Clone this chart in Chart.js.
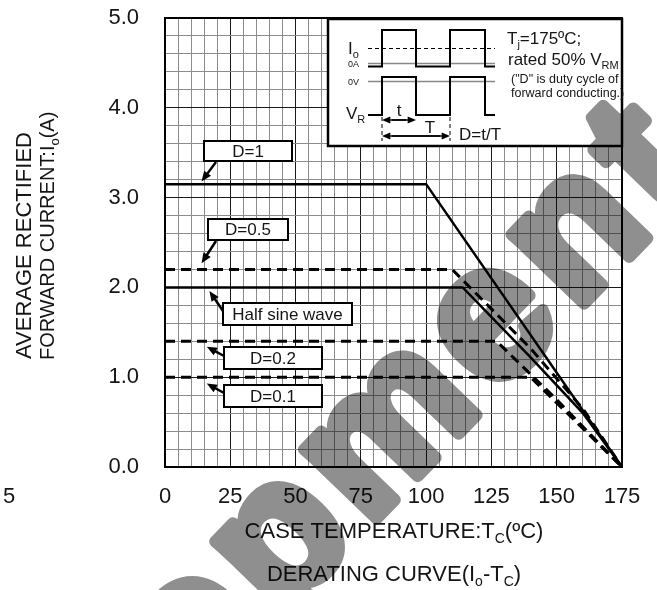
<!DOCTYPE html>
<html>
<head>
<meta charset="utf-8">
<script src="https://cdn.jsdelivr.net/npm/chart.js@4.4.1/dist/chart.umd.min.js"></script>
<style>
  html, body { margin: 0; padding: 0; background: #fff; }
  #wrap { width: 657px; height: 590px; }
</style>
</head>
<body>
<div id="wrap"><canvas id="derating" width="657" height="590"></canvas></div>
<script>
// case temperature (degC) vs average rectified forward current (A)
const d1Temp = [0, 100, 175]
const d1Amp = [3.15, 3.15, 0]
const d05Temp = [0, 110, 140, 160, 175]
const d05Amp = [2.2, 2.2, 1.32, 0.65, 0]
const sineTemp = [0, 114, 140, 160, 175]
const sineAmp = [2.0, 2.0, 1.22, 0.6, 0]
const d02Temp = [0, 127, 150, 175]
const d02Amp = [1.4, 1.4, 0.75, 0]
const d01Temp = [0, 140, 175]
const d01Amp = [1.0, 1.0, 0]

const seriesNames = ['D=1', 'D=0.5', 'Half sine wave', 'D=0.2', 'D=0.1']
const xTickLabels = [0, 25, 50, 75, 100, 125, 150, 175]
const yTickLabels = ['0.0', '1.0', '2.0', '3.0', '4.0', '5.0']

const FONT = "'Liberation Sans', Arial, sans-serif"
const INK = '#151515'

function pts(xs, ys) {
  return xs.map((x, i) => ({ x, y: ys[i] }))
}

function lineSet(label, xs, ys, dashed) {
  return {
    label,
    data: pts(xs, ys),
    showLine: true,
    borderColor: '#000',
    borderWidth: dashed ? 3 : 2.5,
    borderDash: dashed ? [10, 6] : [],
    pointRadius: 0,
    fill: false,
    tension: 0,
  }
}

// text with subscripts: parts = [[text, size, dy], ...]
function richText(ctx, parts, x, y, align) {
  let w = 0
  parts.forEach((p) => {
    ctx.font = p[1] + 'px ' + FONT
    w += ctx.measureText(p[0]).width
  })
  let cx = align === 'center' ? x - w / 2 : align === 'right' ? x - w : x
  ctx.textAlign = 'left'
  ctx.textBaseline = 'alphabetic'
  parts.forEach((p) => {
    ctx.font = p[1] + 'px ' + FONT
    ctx.fillText(p[0], cx, y + (p[2] || 0))
    cx += ctx.measureText(p[0]).width
  })
}

function arrow(ctx, x1, y1, x2, y2, head) {
  const a = Math.atan2(y2 - y1, x2 - x1)
  ctx.beginPath()
  ctx.moveTo(x1, y1)
  ctx.lineTo(x2 - Math.cos(a) * head * 0.8, y2 - Math.sin(a) * head * 0.8)
  ctx.stroke()
  ctx.beginPath()
  ctx.moveTo(x2, y2)
  ctx.lineTo(x2 - head * Math.cos(a - 0.4), y2 - head * Math.sin(a - 0.4))
  ctx.lineTo(x2 - head * Math.cos(a + 0.4), y2 - head * Math.sin(a + 0.4))
  ctx.closePath()
  ctx.fill()
}

// callout boxes: box rect in px, arrow from tail (px) to tip given in data units
const callouts = [
  { text: seriesNames[0], box: [204, 141, 88, 20], tail: [216, 162], tip: [14, 3.18] },
  { text: seriesNames[1], box: [208, 219, 80, 21], tail: [216, 241], tip: [14, 2.27] },
  { text: seriesNames[2], box: [223, 303, 129, 22], tail: [223, 311], tip: [17, 1.96] },
  { text: seriesNames[3], box: [224, 347, 98, 22], tail: [224, 356], tip: [16, 1.34] },
  { text: seriesNames[4], box: [224, 385, 98, 22], tail: [224, 393], tip: [16, 0.93] },
]

function drawWatermark(ctx, w, h) {
  // render the heavy grey word on its own layer, then multiply it over the chart
  const layer = document.createElement('canvas')
  layer.width = w
  layer.height = h
  const lc = layer.getContext('2d')
  lc.fillStyle = '#fff'
  lc.fillRect(0, 0, w, h)
  lc.fillStyle = '#8f8f8f'
  lc.strokeStyle = '#8f8f8f'
  lc.lineWidth = 12
  lc.lineJoin = 'round'
  lc.font = 'bold 190px ' + FONT
  lc.letterSpacing = '12px'
  const pre = lc.measureText('Developm').width
  lc.letterSpacing = '0px'
  const eW = lc.measureText('e').width
  lc.letterSpacing = '12px'
  lc.translate(530, 360)
  lc.rotate(-46 * Math.PI / 180)
  lc.textAlign = 'left'
  lc.textBaseline = 'alphabetic'
  lc.fillText('Development', -pre - eW / 2, 0)
  lc.strokeText('Development', -pre - eW / 2, 0)
  ctx.save()
  ctx.globalCompositeOperation = 'multiply'
  ctx.drawImage(layer, 0, 0)
  ctx.restore()
}

const decorations = {
  id: 'decorations',
  afterDraw(chart) {
    const ctx = chart.ctx
    const area = chart.chartArea
    const xs = chart.scales.x
    const ys = chart.scales.y
    ctx.save()

    // plot frame
    ctx.strokeStyle = '#000'
    ctx.lineWidth = 2
    ctx.strokeRect(area.left, area.top, area.right - area.left, area.bottom - area.top)

    // callouts
    ctx.fillStyle = '#000'
    ctx.strokeStyle = '#000'
    callouts.forEach((c) => {
      const [bx, by, bw, bh] = c.box
      ctx.fillStyle = '#fff'
      ctx.fillRect(bx, by, bw, bh)
      ctx.lineWidth = 2
      ctx.strokeRect(bx, by, bw, bh)
      ctx.fillStyle = INK
      ctx.font = '17px ' + FONT
      ctx.textAlign = 'center'
      ctx.textBaseline = 'middle'
      ctx.fillText(c.text, bx + bw / 2, by + bh / 2 + 1)
      ctx.fillStyle = '#000'
      ctx.lineWidth = 2.5
      arrow(ctx, c.tail[0], c.tail[1], xs.getPixelForValue(c.tip[0]), ys.getPixelForValue(c.tip[1]), 11)
    })

    // inset with waveforms
    ctx.fillStyle = '#fff'
    ctx.fillRect(328, 19, area.right - 328, 127)
    ctx.lineWidth = 2.5
    ctx.strokeStyle = '#000'
    ctx.strokeRect(328, 19, area.right - 328, 127)

    const p1 = 382, p2 = 416, p3 = 450, p4 = 485, l0 = 368, l1 = 495
    ctx.strokeStyle = '#888'
    ctx.lineWidth = 1.5
    ctx.beginPath()
    ctx.moveTo(l0, 63.5); ctx.lineTo(l1, 63.5)
    ctx.moveTo(l0, 81.5); ctx.lineTo(l1, 81.5)
    ctx.stroke()
    ctx.strokeStyle = '#000'
    ctx.lineWidth = 1
    ctx.setLineDash([4, 3])
    ctx.beginPath()
    ctx.moveTo(l0, 48.5); ctx.lineTo(l1, 48.5)
    ctx.stroke()
    ctx.beginPath()
    ctx.moveTo(p1, 117); ctx.lineTo(p1, 141)
    ctx.moveTo(p3, 117); ctx.lineTo(p3, 141)
    ctx.stroke()
    ctx.setLineDash([])
    ctx.lineWidth = 2
    ctx.beginPath()
    ctx.moveTo(l0, 66.5); ctx.lineTo(p1, 66.5); ctx.lineTo(p1, 30); ctx.lineTo(p2, 30); ctx.lineTo(p2, 66.5)
    ctx.lineTo(p3, 66.5); ctx.lineTo(p3, 30); ctx.lineTo(p4, 30); ctx.lineTo(p4, 66.5); ctx.lineTo(l1, 66.5)
    ctx.moveTo(l0, 115); ctx.lineTo(p1, 115); ctx.lineTo(p1, 77); ctx.lineTo(p2, 77); ctx.lineTo(p2, 115)
    ctx.lineTo(p3, 115); ctx.lineTo(p3, 77); ctx.lineTo(p4, 77); ctx.lineTo(p4, 115); ctx.lineTo(l1, 115)
    ctx.stroke()
    ctx.fillStyle = '#000'
    ctx.lineWidth = 1.5
    arrow(ctx, p1 + 10, 120, p2, 120, 9)
    arrow(ctx, p2 - 10, 120, p1, 120, 9)
    arrow(ctx, p1 + 10, 136, p3, 136, 9)
    arrow(ctx, p3 - 10, 136, p1, 136, 9)

    ctx.fillStyle = INK
    richText(ctx, [['I', 17], ['o', 11, 4]], 348, 54, 'left')
    richText(ctx, [['0A', 9]], 348, 67, 'left')
    richText(ctx, [['0V', 9]], 348, 85, 'left')
    richText(ctx, [['V', 17], ['R', 11, 4]], 346, 119, 'left')
    richText(ctx, [['t', 17]], 399, 116, 'center')
    richText(ctx, [['T', 17]], 430, 133, 'center')
    richText(ctx, [['D=t/T', 17]], 459, 140, 'left')
    richText(ctx, [['T', 17], ['j', 11, 4], ['=175ºC;', 17]], 507, 44, 'left')
    richText(ctx, [['rated 50% V', 17], ['RM', 11, 4]], 508, 65, 'left')
    richText(ctx, [['("D" is duty cycle of', 12.5]], 511, 83, 'left')
    richText(ctx, [['forward conducting.)', 12.5]], 511, 97, 'left')

    // axis titles
    richText(ctx, [['CASE TEMPERATURE:T', 22], ['C', 14, 5], ['(ºC)', 22]], 394, 538, 'center')
    richText(ctx, [['DERATING CURVE(I', 22], ['o', 14, 5], ['-T', 22], ['C', 14, 5], [')', 22]], 394, 581, 'center')
    richText(ctx, [['5', 22]], 3, 503, 'left')
    ctx.save()
    ctx.translate(31, 359)
    ctx.rotate(-Math.PI / 2)
    richText(ctx, [['AVERAGE RECTIFIED', 22]], 0, 0, 'left')
    ctx.restore()
    ctx.save()
    ctx.translate(54, 360)
    ctx.rotate(-Math.PI / 2)
    richText(ctx, [['FORWARD CURRENT:I', 20], ['o', 13, 5], ['(A)', 20]], 0, 0, 'left')
    ctx.restore()

    ctx.restore()
    drawWatermark(ctx, chart.width, chart.height)
  },
}

const gridColor = (major) => (ctx) => {
  const v = ctx.tick ? ctx.tick.value : 0
  return Math.abs(v / major - Math.round(v / major)) < 1e-6 ? '#1a1a1a' : '#8c8c8c'
}

new Chart(document.getElementById('derating'), {
  type: 'scatter',
  data: {
    datasets: [
      lineSet(seriesNames[0], d1Temp, d1Amp, false),
      lineSet(seriesNames[1], d05Temp, d05Amp, true),
      lineSet(seriesNames[2], sineTemp, sineAmp, false),
      lineSet(seriesNames[3], d02Temp, d02Amp, true),
      lineSet(seriesNames[4], d01Temp, d01Amp, true),
    ],
  },
  options: {
    responsive: false,
    animation: false,
    devicePixelRatio: 1,
    layout: { padding: { top: 18, right: 35, left: 0, bottom: 0 } },
    plugins: { legend: { display: false }, tooltip: { enabled: false } },
    scales: {
      x: {
        type: 'linear',
        min: 0,
        max: 175,
        afterFit: (scale) => {
          scale.height = 123
          scale.paddingLeft = 0
          scale.paddingRight = 0
        },
        border: { display: false },
        grid: { color: gridColor(25), lineWidth: 1, drawTicks: false },
        ticks: {
          stepSize: 5,
          autoSkip: false,
          maxRotation: 0,
          padding: 17,
          color: INK,
          font: { family: FONT, size: 22 },
          callback: (v) => (xTickLabels.includes(v) ? String(v) : ''),
        },
      },
      y: {
        type: 'linear',
        min: 0,
        max: 5,
        afterFit: (scale) => {
          scale.width = 165
          scale.paddingTop = 0
          scale.paddingBottom = 0
        },
        border: { display: false },
        grid: { color: gridColor(1), lineWidth: 1, drawTicks: false },
        ticks: {
          stepSize: 0.2,
          autoSkip: false,
          padding: 26,
          color: INK,
          font: { family: FONT, size: 22 },
          callback: (v) => {
            const s = v.toFixed(1)
            return yTickLabels.includes(s) && Math.abs(v - Math.round(v)) < 1e-6 ? s : ''
          },
        },
      },
    },
  },
  plugins: [decorations],
})
</script>
</body>
</html>
